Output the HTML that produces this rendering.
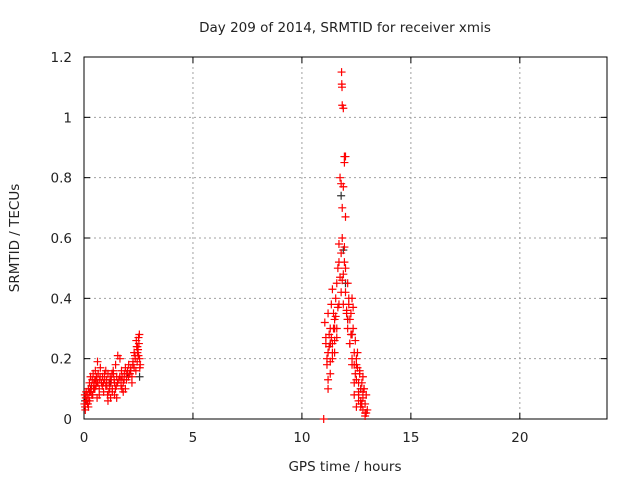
<!DOCTYPE html>
<html><head><meta charset="utf-8"><style>
body{margin:0;background:#fff}
svg{display:block;font-family:"DejaVu Sans","Liberation Sans",sans-serif;font-size:13.5px}
</style></head><body>
<svg id="c" width="640" height="480" xmlns="http://www.w3.org/2000/svg"></svg>
<script>
const xTicks=[0,5,10,15,20];
const yTicks=[0,0.2,0.4,0.6,0.8,1,1.2];
const yTickLabels=["0","0.2","0.4","0.6","0.8","1","1.2"];
// series: red points [hour, TECU]
const redHours=[0.02,0.05,0.08,0.1,0.12,0.15,0.18,0.2,0.22,0.25,0.28,0.3,0.33,0.35,0.38,0.4,0.42,0.45,0.48,0.5,0.52,0.55,0.58,0.6,0.62,0.65,0.7,0.72,0.75,0.8,0.85,0.9,0.95,1.0,1.05,1.1,1.15,1.2,1.22,1.25,1.3,1.35,1.4,1.45,1.5,1.55,1.6,1.65,1.7,1.72,1.75,1.8,1.85,1.9,1.95,2.0,2.05,2.1,2.15,2.2,2.25,2.3,2.35,2.4,2.42,2.45,2.5,2.52,2.55,2.58,0.1,0.3,0.5,0.7,0.9,1.1,1.3,1.5,1.7,1.9,2.1,2.3,2.5,0.2,0.6,1.0,1.4,1.8,2.2,2.45,
0.04,0.14,0.24,0.34,0.44,0.54,0.64,0.74,0.84,0.94,1.04,1.14,1.24,1.34,1.44,1.54,1.64,1.74,1.84,1.94,2.04,2.14,2.24,2.34,2.44,2.54,2.48,2.56,2.38,0.06,0.16,0.26,0.36,0.46,1.08,1.18,1.28,1.38,1.48,
11.0,11.05,11.1,11.15,11.2,11.2,11.25,11.3,11.3,11.35,11.4,11.4,11.45,11.5,11.5,11.55,11.6,11.6,11.65,11.7,11.7,11.75,11.8,11.8,11.85,11.85,11.9,11.9,11.95,12.0,12.0,12.05,12.1,12.1,12.15,12.2,12.2,12.25,12.3,12.3,12.35,12.4,12.4,12.45,12.5,12.5,12.55,12.6,12.6,12.65,12.7,12.7,12.75,12.8,12.8,12.85,12.9,12.9,12.95,13.0,11.82,11.83,11.84,11.85,11.9,11.95,12.0,11.95,11.75,11.8,11.9,12.0,11.85,11.2,11.3,11.4,11.5,11.6,12.1,12.2,12.3,12.4,12.5,12.6,12.7,12.8,
11.1,11.15,11.25,11.35,11.45,11.55,11.65,11.2,11.3,11.4,11.5,12.25,12.35,12.45,12.55,12.65,12.75,12.85,12.95,12.3,12.4,12.5,12.6,12.7,12.8,12.9,12.05,12.15,11.95,11.7];
const redValues=[0.05,0.04,0.07,0.09,0.06,0.08,0.05,0.1,0.07,0.12,0.09,0.14,0.1,0.11,0.13,0.08,0.15,0.12,0.1,0.13,0.16,0.11,0.14,0.12,0.19,0.15,0.1,0.13,0.17,0.12,0.14,0.09,0.13,0.16,0.11,0.15,0.12,0.14,0.07,0.13,0.1,0.15,0.12,0.18,0.14,0.21,0.13,0.2,0.11,0.16,0.14,0.12,0.15,0.17,0.13,0.16,0.18,0.15,0.17,0.14,0.19,0.22,0.2,0.26,0.24,0.22,0.27,0.25,0.2,0.18,0.06,0.09,0.1,0.08,0.12,0.06,0.09,0.07,0.13,0.1,0.15,0.17,0.21,0.04,0.07,0.11,0.08,0.09,0.12,0.24,
0.08,0.06,0.09,0.11,0.1,0.13,0.12,0.14,0.11,0.15,0.13,0.09,0.12,0.16,0.1,0.12,0.14,0.1,0.13,0.15,0.14,0.16,0.18,0.21,0.19,0.28,0.23,0.17,0.16,0.03,0.05,0.06,0.08,0.12,0.08,0.1,0.15,0.13,0.11,
0.0,0.32,0.25,0.18,0.22,0.13,0.28,0.3,0.15,0.38,0.43,0.22,0.35,0.33,0.26,0.4,0.45,0.3,0.5,0.52,0.38,0.47,0.55,0.42,0.6,0.46,0.48,0.38,0.57,0.5,0.42,0.35,0.45,0.3,0.38,0.33,0.25,0.28,0.4,0.2,0.3,0.22,0.18,0.26,0.13,0.2,0.17,0.12,0.08,0.15,0.1,0.05,0.12,0.07,0.03,0.1,0.05,0.02,0.08,0.03,1.15,1.11,1.1,1.04,1.03,0.87,0.87,0.85,0.8,0.78,0.77,0.67,0.7,0.35,0.25,0.2,0.3,0.27,0.33,0.25,0.18,0.08,0.04,0.09,0.06,0.14,
0.27,0.2,0.24,0.27,0.3,0.34,0.37,0.1,0.19,0.25,0.22,0.35,0.37,0.15,0.22,0.16,0.05,0.1,0.02,0.28,0.12,0.18,0.06,0.04,0.09,0.01,0.36,0.4,0.52,0.58];
// dark points
const darkHours=[0.05,0.3,1.2,2.0,2.55,11.3,11.8,11.9,12.0,12.1,12.3,12.7];
const darkValues=[0.06,0.1,0.12,0.15,0.14,0.25,0.74,0.56,0.45,0.33,0.28,0.1];

const L=84,R=607,T=57,B=419;
const sx=h=>L+h*(R-L)/24, sy=v=>B-v*(B-T)/1.2;
const svg=document.getElementById('c');const NS='http://www.w3.org/2000/svg';
function mk(tag,a,parent){const e=document.createElementNS(NS,tag);for(const k in a)e.setAttribute(k,a[k]);(parent||svg).appendChild(e);return e;}
const grid=mk('g',{});


xTicks.forEach((t,i)=>{const x=sx(t);
 if(t>0){const g=mk('line',{x1:x,x2:x,y1:T,y2:B,stroke:'#a0a0a0','stroke-dasharray':'2,3'},grid);
 }
 const tk=mk('line',{x1:x,x2:x,y1:B,y2:B-6,stroke:'#000'});
 const tk2=mk('line',{x1:x,x2:x,y1:T,y2:T+6,stroke:'#000'});
 const l=mk('text',{x:x,y:B+23,'text-anchor':'middle',fill:'#222'});l.textContent=t;
 });
yTicks.forEach((t,i)=>{const y=sy(t);
 if(t>0&&t<1.2){const g=mk('line',{x1:L,x2:R,y1:y,y2:y,stroke:'#a0a0a0','stroke-dasharray':'2,3'},grid);
 }
 const tk=mk('line',{x1:L,x2:L+6,y1:y,y2:y,stroke:'#000'});
 const tk2=mk('line',{x1:R,x2:R-6,y1:y,y2:y,stroke:'#000'});
 const l=mk('text',{x:L-12,y:y+5,'text-anchor':'end',fill:'#222'});l.textContent=yTickLabels[i];
 });
const fr=mk('rect',{x:L,y:T,width:R-L,height:B-T,fill:'none',stroke:'#000'});

function plus(h,v,col,name){const x=sx(h),y=sy(v);const p=mk('path',{d:`M${x-4},${y}h8M${x},${y-4}v8`,stroke:col,'stroke-width':1.2});
 }
darkHours.forEach((h,i)=>plus(h,darkValues[i],'#333','dark-point'));
redHours.forEach((h,i)=>plus(h,redValues[i],'#f00','red-point'));
const t=mk('text',{x:345,y:32,'text-anchor':'middle',fill:'#222'});t.textContent='Day 209 of 2014, SRMTID for receiver xmis';

const xl=mk('text',{x:345,y:471,'text-anchor':'middle',fill:'#222'});xl.textContent='GPS time / hours';

const yl=mk('text',{x:0,y:0,'text-anchor':'middle',fill:'#222',transform:'translate(19,238) rotate(-90)'});yl.textContent='SRMTID / TECUs';

</script>
</body></html>
